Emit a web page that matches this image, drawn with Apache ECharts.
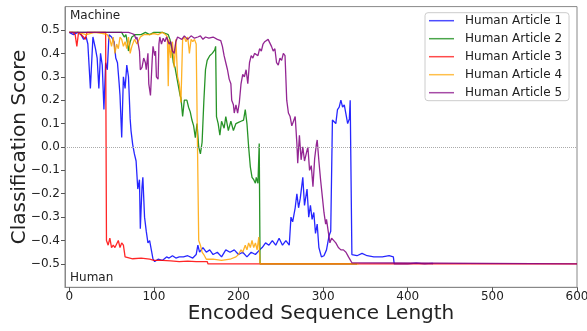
<!DOCTYPE html>
<html><head><meta charset="utf-8">
<script src="https://cdn.jsdelivr.net/npm/echarts@6/dist/echarts.min.js"></script>
<style>html,body{margin:0;padding:0;background:#fff}#c{width:587px;height:331px}</style>
</head><body><div id="c"></div>
<script>
var seriesNames = ['Human Article 1','Human Article 2','Human Article 3','Human Article 4','Human Article 5'];
var xTicks = [0,100,200,300,400,500,600];
var yTicks = [-0.5,-0.4,-0.3,-0.2,-0.1,0,0.1,0.2,0.3,0.4,0.5];

var article1 = [[0,0.49],[5,0.48],[10,0.49],[14,0.48],[17,0.46],[20,0.47],[22,0.44],[25,0.25],[28,0.47],[31,0.42],[33,0.38],[35,0.25],[37,0.4],[39,0.35],[41,0.16],[43,0.36],[45,0.33],[47,0.48],[50,0.47],[53,0.45],[55,0.38],[57,0.36],[59,0.27],[60,0.22],[62,0.04],[64,0.3],[66,0.25],[68,0.35],[70,0.3],[72,0.12],[73,0.07],[75,0.01],[77,-0.03],[79,-0.06],[81,-0.18],[83,-0.14],[84,-0.35],[86,-0.17],[87,-0.13],[89,-0.3],[91,-0.36],[93,-0.41],[95,-0.40],[97,-0.44],[99,-0.48],[101,-0.49],[105,-0.48],[110,-0.485],[115,-0.47],[118,-0.475],[122,-0.465],[126,-0.475],[130,-0.47],[135,-0.47],[140,-0.465],[146,-0.475],[150,-0.46],[152,-0.42],[154,-0.45],[158,-0.43],[162,-0.45],[166,-0.44],[170,-0.46],[175,-0.45],[180,-0.47],[185,-0.44],[190,-0.45],[195,-0.44],[200,-0.46],[205,-0.45],[210,-0.47],[215,-0.45],[220,-0.46],[225,-0.44],[228,-0.43],[232,-0.41],[236,-0.42],[240,-0.40],[244,-0.42],[248,-0.39],[252,-0.42],[256,-0.40],[260,-0.42],[262,-0.30],[264,-0.32],[267,-0.26],[269,-0.20],[271,-0.26],[273,-0.22],[276,-0.13],[278,-0.25],[281,-0.18],[283,-0.30],[285,-0.25],[287,-0.31],[289,-0.28],[291,-0.37],[293,-0.33],[295,-0.43],[298,-0.47],[301,-0.465],[304,-0.44],[307,-0.38],[309,-0.36],[311,0.115],[313,0.12],[315,0.10],[317,0.16],[319,0.17],[321,0.2],[323,0.17],[325,0.18],[327,0.14],[329,0.10],[331,0.12],[332,0.2],[333,0.2],[334,-0.46],[340,-0.465],[346,-0.455],[352,-0.465],[360,-0.47],[370,-0.47],[378,-0.465],[383,-0.47],[384,-0.5],[400,-0.5],[410,-0.497],[420,-0.5],[429,-0.498],[430,-0.5]];

var article2 = [[0,0.49],[20,0.49],[40,0.49],[55,0.49],[62,0.49],[65,0.47],[67,0.48],[69,0.44],[70,0.41],[72,0.45],[74,0.47],[78,0.48],[85,0.48],[90,0.49],[95,0.48],[100,0.49],[105,0.49],[110,0.49],[114,0.485],[117,0.48],[119,0.46],[121,0.42],[123,0.36],[125,0.34],[127,0.30],[129,0.26],[131,0.22],[132,0.21],[134,0.13],[136,0.2],[139,0.2],[141,0.17],[143,0.15],[145,0.115],[147,0.09],[149,0.04],[151,0.10],[153,0.0],[155,-0.03],[157,0.02],[159,0.19],[161,0.33],[163,0.37],[166,0.39],[169,0.40],[172,0.415],[173,0.43],[174,0.13],[176,0.10],[178,0.05],[180,0.11],[183,0.08],[185,0.13],[188,0.07],[191,0.11],[194,0.07],[197,0.10],[200,0.105],[203,0.11],[206,0.115],[208,0.16],[210,0.1],[212,0.0],[214,-0.085],[216,-0.13],[218,-0.14],[220,-0.155],[221,-0.13],[223,-0.155],[224.5,0.015],[225.5,-0.5],[340,-0.5]];

var article3 = [[0,0.49],[4,0.49],[7,0.48],[9,0.43],[11,0.49],[14,0.48],[17,0.47],[19,0.46],[21,0.49],[25,0.49],[30,0.49],[35,0.49],[40,0.49],[43,0.49],[44,-0.40],[46,-0.42],[48,-0.39],[50,-0.43],[52,-0.42],[54,-0.43],[56,-0.43],[58,-0.40],[60,-0.43],[62,-0.41],[64,-0.42],[66,-0.47],[68,-0.475],[75,-0.478],[85,-0.475],[95,-0.48],[100,-0.485],[110,-0.485],[120,-0.487],[130,-0.49],[140,-0.488],[150,-0.49],[163,-0.49],[164,-0.5],[600,-0.5]];

var article4 = [[0,0.49],[10,0.49],[20,0.48],[30,0.49],[40,0.485],[45,0.48],[48,0.46],[50,0.43],[52,0.47],[54,0.40],[56,0.44],[58,0.42],[60,0.47],[62,0.46],[64,0.43],[66,0.45],[68,0.42],[70,0.47],[72,0.40],[74,0.43],[77,0.46],[80,0.44],[84,0.47],[88,0.48],[95,0.48],[100,0.485],[105,0.48],[110,0.49],[114,0.48],[116,0.47],[117,0.26],[118,0.46],[120,0.38],[122,0.45],[124,0.34],[126,0.46],[128,0.30],[130,0.27],[132,0.19],[134,0.46],[136,0.47],[138,0.45],[140,0.47],[142,0.40],[144,0.46],[146,0.45],[148,0.46],[150,0.44],[152,0.435],[153,-0.40],[155,-0.42],[157,-0.45],[159,-0.46],[162,-0.48],[170,-0.48],[180,-0.485],[190,-0.48],[197,-0.47],[200,-0.46],[203,-0.44],[205,-0.45],[208,-0.42],[210,-0.44],[212,-0.41],[214,-0.43],[216,-0.40],[218,-0.43],[220,-0.41],[222,-0.44],[224,-0.385],[225.5,-0.5],[342,-0.5]];

var article5 = [[0,0.49],[20,0.49],[40,0.49],[60,0.49],[70,0.49],[74,0.485],[77,0.48],[79,0.46],[80,0.47],[82,0.43],[83,0.41],[84,0.33],[86,0.34],[88,0.38],[90,0.36],[91,0.33],[93,0.40],[94,0.27],[96,0.22],[98,0.37],[99,0.43],[101,0.39],[102,0.41],[103,0.3],[105,0.29],[106,0.44],[107,0.47],[109,0.44],[111,0.465],[113,0.45],[115,0.47],[118,0.44],[120,0.45],[122,0.41],[124,0.40],[126,0.45],[128,0.47],[130,0.475],[133,0.46],[136,0.475],[140,0.46],[144,0.475],[148,0.465],[152,0.47],[155,0.475],[158,0.46],[161,0.47],[165,0.465],[170,0.47],[175,0.46],[179,0.455],[181,0.43],[183,0.39],[185,0.36],[187,0.33],[189,0.29],[191,0.27],[192,0.2],[194,0.18],[195,0.145],[197,0.18],[199,0.145],[201,0.19],[203,0.27],[205,0.31],[207,0.30],[209,0.33],[211,0.27],[213,0.36],[215,0.39],[217,0.38],[219,0.40],[221,0.40],[223,0.39],[225,0.42],[227,0.41],[229,0.44],[231,0.45],[233,0.455],[235,0.46],[237,0.465],[239,0.43],[241,0.41],[243,0.42],[245,0.36],[247,0.35],[249,0.38],[251,0.37],[253,0.40],[255,0.39],[257,0.2],[259,0.145],[261,0.13],[263,0.09],[265,0.11],[267,0.13],[269,0.015],[270,-0.07],[272,0.05],[274,-0.055],[276,0.0],[278,-0.06],[280,-0.03],[282,0.0],[284,-0.1],[286,-0.08],[288,-0.17],[290,-0.05],[292,0.01],[293,0.03],[295,-0.06],[297,-0.14],[299,-0.21],[301,-0.28],[303,-0.33],[304,-0.31],[306,-0.36],[308,-0.41],[310,-0.39],[312,-0.385],[315,-0.41],[318,-0.43],[321,-0.44],[324,-0.44],[327,-0.45],[330,-0.47],[332,-0.475],[334,-0.495],[336,-0.5],[600,-0.5]];

var allData = [article1, article2, article3, article4, article5];
var colors = ['#0000ff','#008000','#ff0000','#ffa500','#800080'];
var FONT = 'DejaVu Sans';

var chart = echarts.init(document.getElementById('c'), null, {renderer:'canvas'});
var series = allData.map(function(d, i){
  var s = {
    name: seriesNames[i], type:'line', data:d, showSymbol:false, symbol:'none',
    lineStyle:{color:colors[i], width:1.3, opacity:0.85}, itemStyle:{color:colors[i], opacity:0.7},
    animation:false, silent:true
  };
  if (i === 0) {
    s.markLine = {silent:true, symbol:'none', label:{show:false},
      lineStyle:{color:'#aaa', type:'dotted', width:1}, data:[{yAxis:0}]};
  }
  return s;
});

chart.setOption({
  animation:false,
  grid:{left:65, right:10, top:6.6, bottom:43.7, containLabel:false, outerBoundsMode:'none',
    show:true, borderColor:'#888', borderWidth:1, backgroundColor:'transparent'},
  xAxis:{type:'value', min:-5, max:600,
    name:'Encoded Sequence Length', nameLocation:'middle', nameGap:16, nameMoveOverlap:false,
    nameTextStyle:{fontSize:20, color:'#222', fontFamily:FONT},
    axisLine:{show:true, onZero:false, lineStyle:{color:'#888'}},
    axisTick:{show:true, length:4, customValues:xTicks, lineStyle:{color:'#555'}},
    axisLabel:{customValues:xTicks, fontSize:12, color:'#222', fontFamily:FONT, margin:4},
    splitLine:{show:false}},
  yAxis:{type:'value', min:-0.6, max:0.6,
    name:'Classification Score', nameLocation:'middle', nameGap:35, nameMoveOverlap:false,
    nameTextStyle:{fontSize:20, color:'#222', fontFamily:FONT},
    axisLine:{show:true, onZero:false, lineStyle:{color:'#888'}},
    axisTick:{show:true, length:4, customValues:yTicks, lineStyle:{color:'#555'}},
    axisLabel:{customValues:yTicks, fontSize:12, color:'#222', fontFamily:FONT, margin:5,
      formatter:function(v){ return (v < -1e-9 ? '\u2212' : '') + Math.abs(v).toFixed(1); }},
    splitLine:{show:false}},
  legend:{orient:'vertical', left:425, top:12.7, data:seriesNames,
    icon:'rect', itemWidth:25, itemHeight:1.5, itemGap:6,
    padding:[2,7,2,4], borderColor:'#ccc', borderWidth:1, borderRadius:3,
    backgroundColor:'rgba(255,255,255,0.8)',
    textStyle:{fontSize:12, color:'#222', fontFamily:FONT, lineHeight:12, padding:[0,0,0,6]}},
  graphic:[
    {type:'text', left:70, top:10, style:{text:'Machine', fontSize:12, fill:'#222', fontFamily:FONT}},
    {type:'text', left:70, top:272, style:{text:'Human', fontSize:12, fill:'#222', fontFamily:FONT}}
  ],
  series:series
});
</script></body></html>
